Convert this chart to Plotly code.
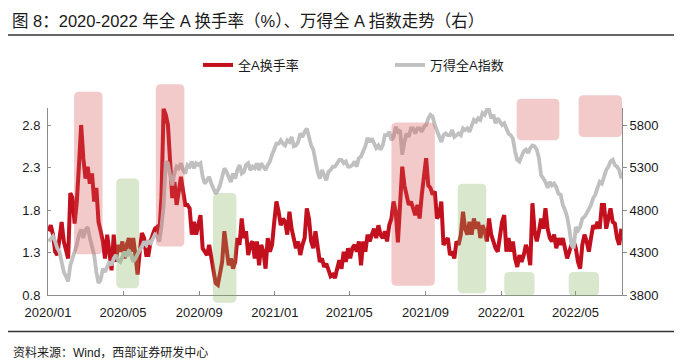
import numpy as np
import pandas as pd
import plotly.graph_objects as go

# ---------------- data ----------------
start_date = "2020-01-02"
step_days = 3.5  # sampling step of the values below (about two readings a week)

turnover = [  # 全A换手率 (%), left axis
    1.55, 1.62, 1.51, 1.31, 1.27, 1.43, 1.66, 1.43, 1.31, 1.23,
    2.00, 1.94, 1.64, 1.90, 2.33, 2.80, 2.41, 2.17, 2.31, 2.11,
    2.23, 1.90, 2.06, 1.66, 1.55, 1.43, 1.23, 1.51, 1.31, 1.09,
    1.51, 1.19, 1.39, 1.31, 1.43, 1.23, 1.39, 1.47, 1.31, 1.47,
    1.27, 1.04, 1.31, 1.53, 1.47, 1.27, 1.27, 1.43, 1.51, 1.58,
    1.60, 1.51, 1.95, 2.99, 2.92, 2.80, 2.37, 1.94, 2.13, 1.86,
    2.02, 2.19, 2.02, 1.86, 1.86, 1.82, 1.51, 1.66, 1.51, 1.62,
    1.74, 1.35, 1.31, 1.27, 1.39, 1.23, 1.07, 0.94, 0.92, 1.07,
    1.19, 1.55, 1.35, 1.15, 1.23, 1.11, 1.19, 1.47, 1.39, 1.70,
    1.47, 1.55, 1.27, 1.39, 1.43, 1.23, 1.43, 1.15, 1.39, 1.31,
    1.11, 1.47, 1.31, 1.39, 1.66, 1.90, 1.78, 1.62, 1.70, 1.66,
    1.51, 1.78, 1.58, 1.43, 1.35, 1.43, 1.27, 1.39, 1.47, 1.82,
    1.70, 1.43, 1.35, 1.55, 1.39, 1.19, 1.23, 1.13, 1.17, 1.09,
    1.02, 1.04, 1.00, 1.11, 1.21, 1.11, 1.31, 1.19, 1.35, 1.23,
    1.35, 1.39, 1.31, 1.43, 1.15, 1.43, 1.31, 1.51, 1.43, 1.51,
    1.58, 1.47, 1.62, 1.51, 1.47, 1.55, 1.43, 1.62, 1.70, 1.90,
    1.78, 1.42, 1.96, 2.31, 2.09, 1.98, 1.86, 1.90, 1.82, 1.74,
    1.86, 1.70, 1.98, 2.25, 2.41, 2.09, 2.06, 1.98, 2.02, 1.70,
    1.74, 1.90, 1.39, 1.43, 1.47, 1.27, 1.31, 1.23, 1.43, 1.39,
    1.51, 1.78, 1.58, 1.51, 1.66, 1.51, 1.70, 1.58, 1.66, 1.47,
    1.62, 1.55, 1.43, 1.70, 1.51, 1.43, 1.35, 1.31, 1.47, 1.66,
    1.74, 1.31, 1.47, 1.31, 1.43, 1.23, 1.13, 1.27, 1.19, 1.27,
    1.39, 1.31, 1.15, 1.88, 1.55, 1.43, 1.55, 1.70, 1.58, 1.82,
    1.58, 1.47, 1.43, 1.51, 1.35, 1.47, 1.39, 1.47, 1.35, 1.23,
    1.31, 1.39, 1.43, 1.35, 1.19, 1.11, 1.39, 1.51, 1.43, 1.31,
    1.47, 1.62, 1.58, 1.66, 1.58, 1.86, 1.86, 1.58, 1.70, 1.82,
    1.66, 1.64, 1.47, 1.39, 1.58,
]

wind_a = [  # 万得全A指数, right axis
    4430, 4470, 4490, 4430, 4350, 4310, 4190, 4070, 4020, 3960,
    4150, 4250, 4310, 4390, 4510, 4570, 4470, 4570, 4600, 4470,
    4370, 4270, 4070, 3940, 3980, 4110, 4070, 4130, 4190, 4150,
    4230, 4270, 4210, 4190, 4250, 4310, 4250, 4330, 4270, 4190,
    4230, 4290, 4330, 4370, 4430, 4390, 4430, 4410, 4470, 4510,
    4490, 4430, 4600, 4850, 5370, 5350, 5210, 5090, 5230, 5310,
    5290, 5350, 5270, 5230, 5330, 5310, 5370, 5290, 5350, 5330,
    5350, 5190, 5110, 5150, 5190, 5110, 5060, 4990, 5030, 5090,
    5190, 5290, 5250, 5190, 5130, 5230, 5170, 5270, 5330, 5230,
    5250, 5330, 5350, 5270, 5310, 5290, 5350, 5270, 5350, 5310,
    5270, 5330, 5370, 5450, 5510, 5580, 5580, 5620, 5580, 5560,
    5620, 5600, 5660, 5550, 5560, 5600, 5700, 5660, 5720, 5760,
    5660, 5560, 5510, 5370, 5250, 5170, 5270, 5210, 5150, 5250,
    5270, 5310, 5310, 5350, 5390, 5390, 5350, 5370, 5310, 5310,
    5330, 5370, 5310, 5410, 5430, 5490, 5550, 5650, 5600, 5640,
    5580, 5530, 5560, 5510, 5560, 5680, 5680, 5720, 5620, 5660,
    5780, 5720, 5740, 5450, 5600, 5700, 5660, 5760, 5760, 5700,
    5760, 5760, 5720, 5780, 5800, 5880, 5920, 5900, 5800, 5740,
    5660, 5600, 5680, 5700, 5680, 5680, 5740, 5660, 5680, 5700,
    5680, 5760, 5740, 5760, 5720, 5800, 5860, 5840, 5880, 5860,
    5940, 5920, 5980, 5980, 5880, 5920, 5820, 5880, 5840, 5800,
    5820, 5760, 5700, 5680, 5640, 5490, 5390, 5370, 5430, 5490,
    5510, 5470, 5530, 5560, 5550, 5510, 5410, 5210, 5170, 5130,
    5060, 5130, 5090, 5110, 5070, 4990, 4980, 4860, 4800, 4720,
    4580, 4390, 4350, 4600, 4560, 4600, 4700, 4720, 4760, 4800,
    4860, 4940, 4980, 5060, 5130, 5110, 5190, 5270, 5310, 5370,
    5390, 5330, 5310, 5270, 5170,
]

# highlighted periods: start, end, low, high (left-axis units), kind
hl_start = ["2020-02-12", "2020-04-20", "2020-06-23", "2020-09-23", "2021-07-08",
            "2021-10-23", "2022-01-06", "2022-01-26", "2022-04-20", "2022-05-06"]
hl_end = ["2020-03-29", "2020-05-27", "2020-08-08", "2020-10-31", "2021-09-16",
          "2021-12-08", "2022-02-24", "2022-04-05", "2022-06-08", "2022-07-15"]
hl_low = [1.28, 0.88, 1.37, 0.71, 0.91, 0.82, 0.79, 2.62, 0.79, 2.66]
hl_high = [3.19, 2.17, 3.28, 2.00, 2.83, 2.11, 1.07, 3.11, 1.07, 3.15]
hl_kind = ["red", "green", "red", "green", "red", "green", "green", "red", "green", "red"]

x_range = ["2020-01-01", "2022-07-15"]
y_left_range = [0.8, 3.0]
y_right_range = [3800, 6000]

title_text = "图 8：2020-2022 年全 A 换手率（%）、万得全 A 指数走势（右）"
source_text = "资料来源：Wind，西部证券研发中心"
name_turnover = "全A换手率"
name_index = "万得全A指数"

# ---------------- figure ----------------
W, H = 682, 363
ML, MR, MT, MB = 48, 60, 108, 68
PW, PH = W - ML - MR, H - MT - MB

dates = pd.Timestamp(start_date) + pd.to_timedelta(np.arange(len(turnover)) * step_days, unit="D")

RED = "#C3101E"
GRAY = "#C0C0C0"
LATIN = "Liberation Sans, Arial, Noto Sans CJK SC"

fig = go.Figure()
fig.add_trace(go.Scatter(x=dates, y=turnover, name=name_turnover, mode="lines",
                         line=dict(color=RED, width=4), yaxis="y", legend="legend"))
fig.add_trace(go.Scatter(x=dates, y=wind_a, name=name_index, mode="lines",
                         line=dict(color=GRAY, width=3.8), yaxis="y2", legend="legend2"))

# rounded highlight boxes (paper coordinates computed from the axis ranges)
x0 = pd.Timestamp(x_range[0])
x1 = pd.Timestamp(x_range[1])
span = (x1 - x0).total_seconds()


def xp(d):
    return (pd.Timestamp(d) - x0).total_seconds() / span


def yp(v):
    return (v - y_left_range[0]) / (y_left_range[1] - y_left_range[0])


r_px = 5
rx, ry = r_px / PW, r_px / PH
fills = {"red": "rgba(215,80,80,0.30)", "green": "rgba(130,180,90,0.30)"}
shapes = []
for s, e, lo, hi, k in zip(hl_start, hl_end, hl_low, hl_high, hl_kind):
    a, b = xp(s), xp(e)
    c, d = yp(lo), yp(hi)
    path = (f"M {a+rx},{c} L {b-rx},{c} Q {b},{c} {b},{c+ry} "
            f"L {b},{d-ry} Q {b},{d} {b-rx},{d} L {a+rx},{d} Q {a},{d} {a},{d-ry} "
            f"L {a},{c+ry} Q {a},{c} {a+rx},{c} Z")
    shapes.append(dict(type="path", path=path, xref="paper", yref="paper",
                       fillcolor=fills[k], line=dict(width=0), layer="above"))


def px_to_paper_x(p):
    return (p - ML) / PW


def px_to_paper_y(p):
    return (H - MB - p) / PH


# title underline and source separator
shapes.append(dict(type="line", xref="paper", yref="paper",
                   x0=px_to_paper_x(8), x1=px_to_paper_x(674),
                   y0=px_to_paper_y(35), y1=px_to_paper_y(35),
                   line=dict(color="#333333", width=1.5)))
shapes.append(dict(type="line", xref="paper", yref="paper",
                   x0=px_to_paper_x(8), x1=px_to_paper_x(674),
                   y0=px_to_paper_y(331.5), y1=px_to_paper_y(331.5),
                   line=dict(color="#333333", width=1.5)))

annotations = [
    dict(text=title_text, xref="paper", yref="paper",
         x=px_to_paper_x(10), y=px_to_paper_y(21), xanchor="left", yanchor="middle",
         showarrow=False, font=dict(family=LATIN, size=16.5, color="#1a1a1a")),
    dict(text=source_text, xref="paper", yref="paper",
         x=px_to_paper_x(11), y=px_to_paper_y(352), xanchor="left", yanchor="middle",
         showarrow=False, font=dict(family=LATIN, size=12, color="#1a1a1a")),
]

axis_col = "#8c8c8c"
fig.update_layout(
    width=W, height=H,
    margin=dict(l=ML, r=MR, t=MT, b=MB, autoexpand=False),
    paper_bgcolor="white", plot_bgcolor="white",
    font=dict(family=LATIN, size=13, color="#1a1a1a"),
    shapes=shapes, annotations=annotations,
    showlegend=True,
    legend=dict(orientation="h", xref="container", yref="container",
                x=198 / W, y=1 - 65 / H, xanchor="left", yanchor="middle",
                font=dict(size=13), bgcolor="rgba(0,0,0,0)", itemwidth=30),
    legend2=dict(orientation="h", xref="container", yref="container",
                 x=390 / W, y=1 - 65 / H, xanchor="left", yanchor="middle",
                 font=dict(size=13), bgcolor="rgba(0,0,0,0)", itemwidth=30),
    xaxis=dict(type="date", range=x_range, tickformat="%Y/%m", dtick="M4",
               tick0="2020-01-01", showgrid=False, zeroline=False,
               showline=True, linecolor=axis_col, linewidth=1,
               ticks="inside", ticklen=4, tickcolor=axis_col, ticklabelstandoff=5,
               tickfont=dict(size=13, color="#1a1a1a")),
    yaxis=dict(range=y_left_range, dtick=0.5, tick0=0.8, tickformat=".1f",
               showgrid=False, zeroline=False, showline=True, linecolor=axis_col,
               linewidth=1, ticks="inside", ticklen=3, tickcolor=axis_col,
               ticklabelstandoff=4,
               tickfont=dict(size=13, color="#1a1a1a")),
    yaxis2=dict(range=y_right_range, dtick=500, tick0=3800, overlaying="y",
                side="right", showgrid=False, zeroline=False, showline=True,
                linecolor=axis_col, linewidth=1, ticks="outside", ticklen=4,
                tickcolor=axis_col, tickfont=dict(size=13, color="#1a1a1a")),
)

fig.write_html("out.html",
               config={"displayModeBar": False},
               post_script="document.body.style.margin='0px';document.body.style.overflow='hidden';")
